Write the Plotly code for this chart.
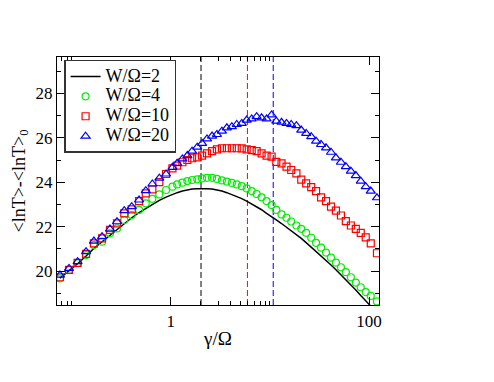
import plotly.graph_objects as go

# gamma / Omega grid (shared by all curves)
gamma_ratio = [
    0.0764, 0.0942, 0.115, 0.140, 0.168, 0.203, 0.244, 0.287, 0.340, 0.404,
    0.479, 0.560, 0.652, 0.767, 0.897, 1.04, 1.16, 1.31, 1.47, 1.64,
    1.85, 2.07, 2.32, 2.61, 2.92, 3.28, 3.68, 4.13, 4.63, 5.20,
    5.83, 6.55, 7.35, 8.24, 9.25, 10.4, 11.6, 13.1, 14.7, 16.4,
    18.5, 20.7, 23.2, 26.1, 29.2, 32.8, 36.8, 41.3, 46.3, 52.0,
    58.3, 65.5, 73.5, 82.4, 92.5, 104, 120,
]

w2 = [
    19.68, 20.00, 20.33, 20.68, 21.02, 21.32, 21.62, 21.88, 22.15, 22.40,
    22.63, 22.82, 23.00, 23.18, 23.33, 23.45, 23.53, 23.60, 23.65, 23.69,
    23.71, 23.72, 23.71, 23.69, 23.65, 23.60, 23.53, 23.45, 23.36, 23.26,
    23.15, 23.03, 22.90, 22.76, 22.60, 22.46, 22.30, 22.14, 21.98, 21.82,
    21.65, 21.47, 21.28, 21.08, 20.88, 20.68, 20.48, 20.27, 20.06, 19.84,
    19.62, 19.39, 19.15, 18.90, 18.66, 18.42, 18.12,
]

w4 = [
    19.67, 20.05, 20.35, 20.72, 21.17, 21.32, 21.70, 21.92, 22.30, 22.52,
    22.75, 23.05, 23.25, 23.45, 23.65, 23.80, 23.90, 23.98, 24.05, 24.10,
    24.13, 24.17, 24.20, 24.20, 24.15, 24.08, 24.03, 23.97, 23.90, 23.82,
    23.72, 23.60, 23.47, 23.32, 23.15, 22.97, 22.75, 22.55, 22.40, 22.23,
    22.05, 21.90, 21.72, 21.50, 21.27, 21.05, 20.83, 20.60, 20.38, 20.17,
    19.95, 19.72, 19.48, 19.27, 19.05, 18.88, 18.63,
]

w10 = [
    19.72, 20.05, 20.37, 20.77, 21.25, 21.47, 21.85, 22.15, 22.60, 22.78,
    23.15, 23.50, 23.68, 24.00, 24.37, 24.62, 24.75, 24.90, 25.00, 25.08,
    25.12, 25.20, 25.30, 25.40, 25.48, 25.53, 25.53, 25.53, 25.53, 25.52,
    25.48, 25.45, 25.40, 25.30, 25.20, 25.15, 24.92, 24.85, 24.70, 24.55,
    24.40, 24.12, 23.95, 23.78, 23.60, 23.32, 23.15, 22.90, 22.72, 22.50,
    22.25, 22.05, 21.90, 21.72, 21.52, 21.25, 20.80,
]

w20 = [
    19.82, 20.12, 20.42, 20.87, 21.35, 21.55, 21.89, 22.22, 22.72, 22.90,
    23.20, 23.62, 23.92, 24.18, 24.37, 24.67, 24.85, 25.05, 25.20, 25.40,
    25.58, 25.75, 25.95, 26.08, 26.15, 26.30, 26.45, 26.50, 26.60, 26.65,
    26.80, 26.85, 26.95, 26.90, 26.85, 27.03, 26.75, 26.70, 26.65, 26.60,
    26.55, 26.35, 26.20, 26.05, 25.85, 25.70, 25.55, 25.35, 25.10, 24.90,
    24.70, 24.50, 24.30, 24.05, 23.80, 23.60, 23.30,
]

labels = ["W/Ω=2", "W/Ω=4", "W/Ω=10", "W/Ω=20"]

# positions of the maxima (dashed lines)
peak_x = [2.02, 5.93, 10.8]
peak_colors = ["black", "red", "blue"]

x_major = [1, 100]
x_minor = [0.02, 0.03, 0.04, 0.05, 0.06, 0.07, 0.08, 0.09, 0.1,
           2, 3, 4, 5, 6, 7, 8, 9, 10, 200]

SERIF = '"Liberation Serif", "Times New Roman", Times, serif'


def leg(name):
    # bigger glyphs than the legend font, so rows stay tight like the original
    return '<span style="font-size:18px">' + name + "</span>"


fig = go.Figure()

fig.add_trace(go.Scatter(
    x=gamma_ratio, y=w2, mode="lines", name=leg(labels[0]),
    line=dict(color="black", width=1.5),
))
fig.add_trace(go.Scatter(
    x=gamma_ratio, y=w4, mode="markers", name=leg(labels[1]),
    marker=dict(symbol="circle-open", size=7, color="#00ee00",
                line=dict(width=1.2)),
))
fig.add_trace(go.Scatter(
    x=gamma_ratio, y=w10, mode="markers", name=leg(labels[2]),
    marker=dict(symbol="square-open", size=7, color="red",
                line=dict(width=1.2)),
))
fig.add_trace(go.Scatter(
    x=gamma_ratio, y=w20, mode="markers", name=leg(labels[3]),
    marker=dict(symbol="triangle-up-open", size=8, color="blue",
                line=dict(width=1.2)),
))

for px_, col in zip(peak_x, peak_colors):
    fig.add_shape(type="line", xref="x", yref="paper",
                  x0=px_, x1=px_, y0=0, y1=1,
                  line=dict(color=col, width=1, dash="6px,3px"), layer="below")

fig.update_xaxes(
    type="log", range=[-1.147, 2.10], automargin=False,
    tickmode="array", tickvals=x_major, ticktext=["1", "100"],
    ticks="inside", ticklen=8, tickwidth=1, tickcolor="black",
    minor=dict(tickmode="array", tickvals=x_minor, ticks="inside",
               ticklen=4, tickcolor="black", showgrid=False),
    showline=True, linecolor="black", linewidth=1.2, mirror="ticks",
    showgrid=False, zeroline=False,
    tickfont=dict(family=SERIF, size=17, color="black"),
    title=dict(text="γ/Ω", font=dict(family=SERIF, size=19, color="black"),
               standoff=2),
)
fig.update_yaxes(
    range=[18.47, 29.64], automargin=False,
    tickmode="linear", tick0=20, dtick=2,
    ticks="inside", ticklen=8, tickwidth=1, tickcolor="black",
    minor=dict(dtick=1, ticks="inside", ticklen=4, tickcolor="black",
               showgrid=False),
    showline=True, linecolor="black", linewidth=1.2, mirror="ticks",
    showgrid=False, zeroline=False,
    tickfont=dict(family=SERIF, size=17, color="black"),
    title=dict(text="<lnT>-<lnT><sub>0</sub>",
               font=dict(family=SERIF, size=18, color="black"), standoff=5),
)

# page body adds an 8px offset, so the figure is drawn 8px smaller
fig.update_layout(
    width=486, height=374,
    margin=dict(l=49, r=115, t=49, b=77),
    paper_bgcolor="white", plot_bgcolor="white",
    showlegend=True,
    legend=dict(
        x=0.022, y=0.988, xanchor="left", yanchor="top",
        bgcolor="white", bordercolor="#333", borderwidth=1.5,
        font=dict(family=SERIF, size=13, color="black"),
        tracegroupgap=0, itemwidth=30,
    ),
)

fig.write_html("out.html")
